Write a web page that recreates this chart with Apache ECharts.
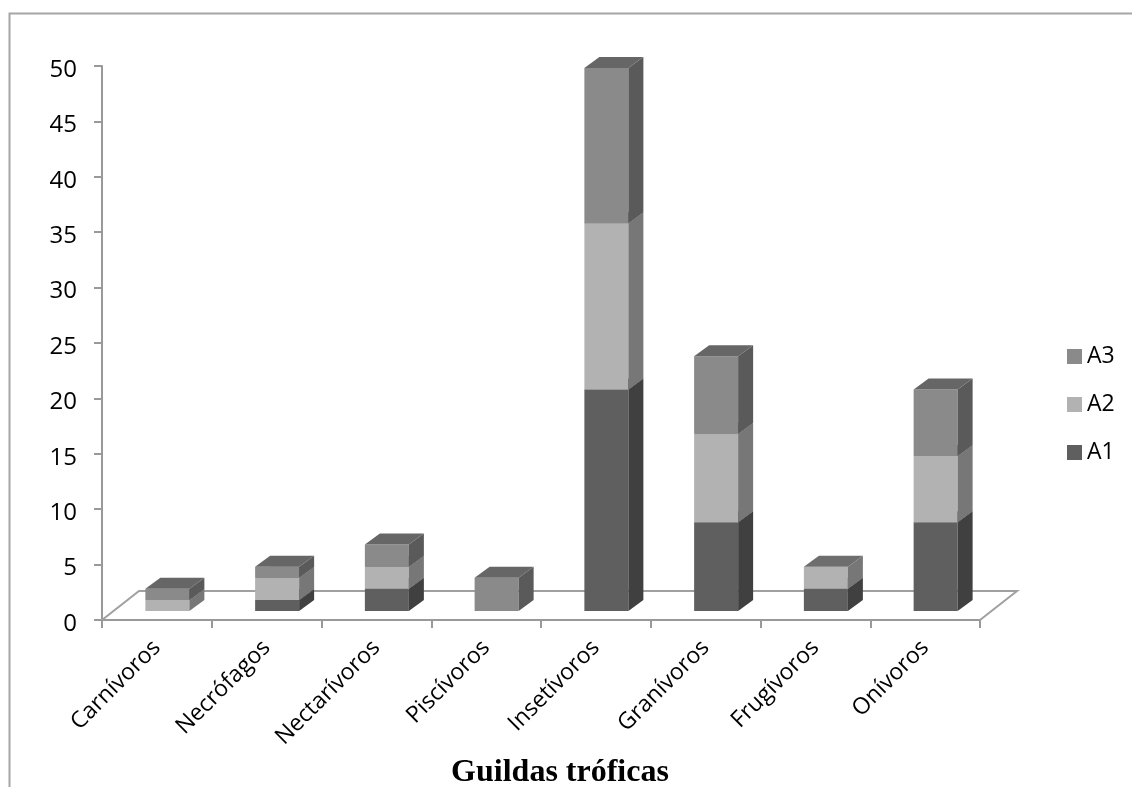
<!DOCTYPE html>
<html><head><meta charset="utf-8">
<style>html,body{margin:0;padding:0;background:#fff}#c{width:1132px;height:787px}</style>
<script src="https://cdn.jsdelivr.net/npm/echarts@6/dist/echarts.min.js"></script>
</head><body><div id="c"></div>
<script>
const categories = ['Carnívoros','Necrófagos','Nectarívoros','Piscívoros','Insetívoros','Granívoros','Frugívoros','Onívoros'];
const A1 = [0,1,2,0,20,8,2,8];
const A2 = [1,2,2,0,15,8,2,6];
const A3 = [1,1,2,3,14,7,0,6];
const yTicks = {min:0,max:50,interval:5};
const xTitle = 'Guildas tróficas';

const layers = [
  {name:'A1',values:A1,front:'#5f5f5f',side:'#404040',top:'#4f4f4f',below:[]},
  {name:'A2',values:A2,front:'#b2b2b2',side:'#777777',top:'#6e6e6e',below:[A1]},
  {name:'A3',values:A3,front:'#8a8a8a',side:'#5a5a5a',top:'#666666',below:[A1,A2]}
];
const DX=15, DY=-11, LIFT=-9, SHIFT=10.5, BW=44;

function barSeries(l){
  return {
    type:'custom',name:l.name,coordinateSystem:'cartesian2d',z:3,
    itemStyle:{color:l.front},
    encode:{x:0,y:1},
    data:l.values.map((v,i)=>[i,v]),
    renderItem(params,api){
      const i=api.value(0),v=api.value(1);
      if(!v) return null;
      const base=l.below.reduce((s,a)=>s+a[i],0);
      const p0=api.coord([i,base]),p1=api.coord([i,base+v]);
      const x0=p0[0]+SHIFT-BW/2,x1=x0+BW,yb=p0[1]+LIFT,yt=p1[1]+LIFT;
      const poly=(pts,fill)=>({type:'polygon',shape:{points:pts},style:{fill,stroke:null}});
      return {type:'group',children:[
        poly([[x0,yb],[x1,yb],[x1,yt],[x0,yt]],l.front),
        poly([[x1,yb],[x1+DX,yb+DY],[x1+DX,yt+DY],[x1,yt]],l.side),
        poly([[x0,yt],[x1,yt],[x1+DX,yt+DY],[x0+DX,yt+DY]],l.top)
      ]};
    }
  };
}
const floor={
  type:'custom',coordinateSystem:'cartesian2d',z:1,silent:true,
  data:[[0,0]],encode:{x:0,y:1},
  renderItem(params,api){
    const c=params.coordSys,b=c.y+c.height,l=c.x,r=c.x+c.width,d=-29,w=37;
    return {type:'polyline',shape:{points:[[l,b],[l+w,b+d],[r+w,b+d],[r,b]]},
      style:{fill:null,stroke:'#a0a0a0',lineWidth:2}};
  }
};
const chart=echarts.init(document.getElementById('c'),null,{renderer:'canvas'});
chart.setOption({
  animation:false,backgroundColor:'#fff',
  graphic:[{type:'polyline',shape:{points:[[9.5,787],[9.5,13.5],[1132,13.5]]},style:{fill:null,stroke:'#a6a6a6',lineWidth:2},z:0}],
  grid:{left:102,top:66,width:878,height:554,containLabel:false,outerBoundsMode:'none'},
  legend:{data:['A3','A2','A1'],orient:'vertical',left:1062,top:340,icon:'rect',itemWidth:15,itemHeight:15,itemGap:25,
    textStyle:{fontFamily:'Open Sans',fontSize:23,color:'#000'},selectedMode:false},
  xAxis:{type:'category',data:categories,boundaryGap:true,
    axisLine:{lineStyle:{color:'#999',width:2}},
    axisTick:{show:true,alignWithLabel:false,length:8,lineStyle:{color:'#999',width:2}},
    axisLabel:{rotate:45,interval:0,margin:24,fontFamily:'Open Sans',fontSize:23,color:'#000'},
    name:xTitle,nameLocation:'middle',nameGap:137,
    nameTextStyle:{fontFamily:'Liberation Serif',fontWeight:'bold',fontSize:32,color:'#000',padding:[0,0,0,38]}},
  yAxis:{type:'value',min:yTicks.min,max:yTicks.max,interval:yTicks.interval,
    splitLine:{show:false},
    axisLine:{show:true,lineStyle:{color:'#999',width:2}},
    axisTick:{show:true,length:8,lineStyle:{color:'#999',width:2}},
    axisLabel:{margin:25,formatter:'{v|{value}}',
      rich:{v:{fontFamily:'Open Sans',fontSize:24,color:'#000',padding:[8,0,0,0]}}}},
  series:[floor,...layers.map(barSeries)]
});
</script></body></html>
